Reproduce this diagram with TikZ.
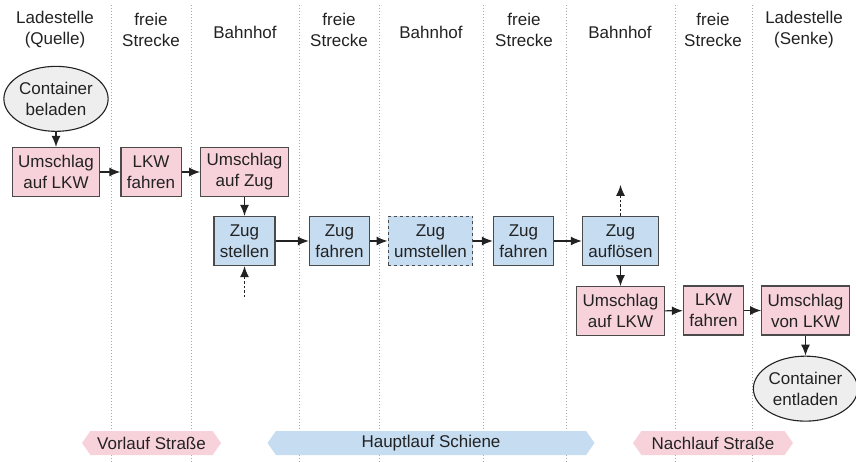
\documentclass[tikz,border=0pt]{standalone}
\usepackage{fontspec}
\setmainfont{Liberation Sans}
\usetikzlibrary{arrows.meta,positioning,shapes.geometric,shapes.symbols}

\definecolor{roadpink}{HTML}{F8D2DB}
\definecolor{railblue}{HTML}{C5DCF1}
\definecolor{boxline}{HTML}{4A4A4A}
\definecolor{endgray}{HTML}{EDEEED}
\definecolor{sepgray}{HTML}{A8A8A8}
\definecolor{ink}{HTML}{222222}

\begin{document}
\begin{tikzpicture}[x=1pt, y=-1pt,  % pixel-like units, y down
  font=\fontsize{17}{21}\selectfont,
  text=ink,
  box/.style={draw=boxline, line width=1.2pt, align=center,
              minimum height=49pt, inner xsep=6pt, inner ysep=2pt},
  road/.style={box, fill=roadpink},
  rail/.style={box, fill=railblue},
  endpoint/.style={ellipse, draw=ink, line width=1.1pt, fill=endgray, align=center,
              minimum width=100pt, minimum height=65pt, inner sep=0pt},
  head/.style={align=center},
  phase/.style={signal, signal to=west and east, signal pointer angle=110,
              minimum height=24pt, inner sep=0pt},
  arrow/.style={-{Latex[length=11pt,width=9pt]}, line width=1.2pt, draw=ink},
  dotarrow/.style={arrow, dash pattern=on 2.5pt off 2pt},
  sep/.style={draw=sepgray, line width=0.9pt, dash pattern=on 1pt off 2pt}
]
\useasboundingbox (0,0) rectangle (856,462);

% --- Column separators ---
\draw[sep] (111,5) -- (111,462)  (191,5) -- (191,462)
           (299,5) -- (299,462)  (379,5) -- (379,462)
           (483,5) -- (483,462)  (566,5) -- (566,462)
           (675,5) -- (675,462)  (752,5) -- (752,462);

% --- Column heads ---
\node[head] (hQuelle) at (55,30)  {Ladestelle\\(Quelle)};
\node[head] (hStrA)   at (151,30) {freie\\Strecke};
\node[head] (hBhfA)   at (245,32) {Bahnhof};
\node[head] (hStrB)   at (339,30) {freie\\Strecke};
\node[head] (hBhfB)   at (431,32) {Bahnhof};
\node[head] (hStrC)   at (524,30) {freie\\Strecke};
\node[head] (hBhfC)   at (620,32) {Bahnhof};
\node[head] (hStrD)   at (713,30) {freie\\Strecke};
\node[head] (hSenke)  at (804,30) {Ladestelle\\(Senke)};

% --- Nodes ---
\node[road] (toLkwA)    at (56,172)    {Umschlag\\auf LKW};
\node[endpoint, above=15pt of toLkwA] (load) {Container\\beladen};
\node[road] (lkwA)      at (151,172)   {LKW\\fahren};
\node[road] (toZug)     at (244.5,172) {Umschlag\\auf Zug};

\node[rail] (stellen)   at (244.5,241) {Zug\\stellen};
\node[rail] (fahrenA)   at (339.5,241) {Zug\\fahren};
\node[rail, dashed] (umstellen) at (430.5,241) {Zug\\umstellen};
\node[rail] (fahrenB)   at (523.5,241) {Zug\\fahren};
\node[rail] (aufloesen) at (620.5,241) {Zug\\auflösen};

\node[road, below=20pt of aufloesen] (toLkwB) {Umschlag\\auf LKW};
\node[road] (lkwB)      at (713.5,310.5) {LKW\\fahren};
\node[road] (vonLkw)    at (805.5,310.5) {Umschlag\\von LKW};
\node[endpoint, below=20pt of vonLkw] (unload) {Container\\entladen};

\coordinate (feedIn)  at ([yshift=-31pt]stellen.south);
\coordinate (feedOut) at ([yshift=31pt]aufloesen.north);

% --- Flows ---
\draw[arrow] (load) -- (toLkwA);
\draw[arrow] (toLkwA) -- (lkwA);
\draw[arrow] (lkwA) -- (toZug);
\draw[arrow] (toZug) -- (stellen);
\draw[dotarrow] (feedIn) -- (stellen);
\draw[arrow] (stellen) -- (fahrenA);
\draw[arrow] (fahrenA) -- (umstellen);
\draw[arrow] (umstellen) -- (fahrenB);
\draw[arrow] (fahrenB) -- (aufloesen);
\draw[dotarrow] (aufloesen) -- (feedOut);
\draw[arrow] (aufloesen) -- (toLkwB);
\draw[arrow] (toLkwB) -- (lkwB);
\draw[arrow] (lkwB) -- (vonLkw);
\draw[arrow] (vonLkw) -- (unload);

% --- Phases ---
\node[phase, fill=roadpink, minimum width=139pt] (vorlauf)   at (151.5,443) {Vorlauf Straße};
\node[phase, fill=railblue, minimum width=327pt] (hauptlauf) at (431,443)   {Hauptlauf Schiene};
\node[phase, fill=roadpink, minimum width=160pt] (nachlauf)  at (713,443)   {Nachlauf Straße};

\end{tikzpicture}
\end{document}
